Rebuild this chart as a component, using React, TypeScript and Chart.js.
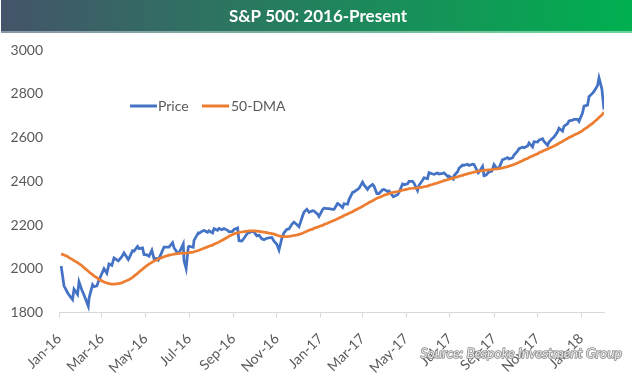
import { useEffect, useRef } from "react";
import { Chart, registerables } from "chart.js";

Chart.register(...registerables);

const chartTitle = "S&P 500: 2016-Present";
const sourceText = "Source: Bespoke Investment Group";
const seriesNames = ["Price", "50-DMA"];

const dates = [
  "2016-01-04","2016-01-08","2016-01-13","2016-01-15","2016-01-20","2016-01-22","2016-01-27","2016-01-29",
  "2016-02-02","2016-02-05","2016-02-11","2016-02-12","2016-02-17","2016-02-19","2016-02-23","2016-02-26",
  "2016-03-01","2016-03-04","2016-03-08","2016-03-11","2016-03-15","2016-03-18","2016-03-24","2016-03-29",
  "2016-04-01","2016-04-07","2016-04-08","2016-04-13","2016-04-15","2016-04-20","2016-04-22","2016-04-27",
  "2016-04-29","2016-05-03","2016-05-06","2016-05-10","2016-05-13","2016-05-17","2016-05-19","2016-05-24",
  "2016-05-27","2016-06-01","2016-06-03","2016-06-08","2016-06-10","2016-06-15","2016-06-17","2016-06-23",
  "2016-06-24","2016-06-27","2016-06-30","2016-07-01","2016-07-07","2016-07-08","2016-07-14","2016-07-15",
  "2016-07-20","2016-07-22","2016-07-27","2016-07-29","2016-08-03","2016-08-05","2016-08-10","2016-08-12",
  "2016-08-16","2016-08-19","2016-08-24","2016-08-26","2016-08-31","2016-09-02","2016-09-07","2016-09-09",
  "2016-09-13","2016-09-16","2016-09-21","2016-09-23","2016-09-28","2016-09-30","2016-10-04","2016-10-07",
  "2016-10-11","2016-10-14","2016-10-18","2016-10-21","2016-10-25","2016-10-28","2016-11-01","2016-11-04",
  "2016-11-08","2016-11-11","2016-11-15","2016-11-18","2016-11-22","2016-11-25","2016-11-30","2016-12-02",
  "2016-12-07","2016-12-09","2016-12-13","2016-12-16","2016-12-21","2016-12-23","2016-12-28","2016-12-30",
  "2017-01-04","2017-01-06","2017-01-11","2017-01-13","2017-01-18","2017-01-20","2017-01-25","2017-01-27",
  "2017-02-01","2017-02-03","2017-02-08","2017-02-10","2017-02-15","2017-02-17","2017-02-22","2017-02-24",
  "2017-03-01","2017-03-03","2017-03-08","2017-03-10","2017-03-15","2017-03-17","2017-03-21","2017-03-24",
  "2017-03-29","2017-03-31","2017-04-05","2017-04-07","2017-04-13","2017-04-19","2017-04-21","2017-04-26",
  "2017-04-28","2017-05-03","2017-05-05","2017-05-10","2017-05-12","2017-05-17","2017-05-19","2017-05-24",
  "2017-05-26","2017-05-31","2017-06-02","2017-06-07","2017-06-09","2017-06-14","2017-06-16","2017-06-21",
  "2017-06-23","2017-06-29","2017-06-30","2017-07-06","2017-07-07","2017-07-12","2017-07-14","2017-07-19",
  "2017-07-21","2017-07-26","2017-07-28","2017-08-02","2017-08-04","2017-08-10","2017-08-11","2017-08-16",
  "2017-08-18","2017-08-21","2017-08-25","2017-08-29","2017-09-01","2017-09-05","2017-09-08","2017-09-13",
  "2017-09-15","2017-09-20","2017-09-22","2017-09-27","2017-09-29","2017-10-04","2017-10-06","2017-10-11",
  "2017-10-13","2017-10-18","2017-10-20","2017-10-25","2017-10-27","2017-11-01","2017-11-03","2017-11-08",
  "2017-11-10","2017-11-15","2017-11-17","2017-11-22","2017-11-24","2017-11-29","2017-12-01","2017-12-06",
  "2017-12-08","2017-12-13","2017-12-15","2017-12-20","2017-12-22","2017-12-27","2017-12-29","2018-01-03",
  "2018-01-05","2018-01-10","2018-01-12","2018-01-17","2018-01-19","2018-01-24","2018-01-26","2018-01-30",
  "2018-02-02",
];

const price = [
  2012.7,1922.0,1890.3,1880.3,1859.3,1906.9,1883.0,1940.2,
  1903.0,1880.1,1829.1,1864.8,1926.8,1917.8,1921.3,1948.1,
  1978.4,2000.0,1979.3,2022.2,2015.9,2049.6,2035.9,2055.0,
  2072.8,2041.9,2047.6,2082.4,2080.7,2102.4,2091.6,2095.2,
  2065.3,2063.4,2057.1,2084.4,2046.6,2047.2,2040.0,2076.1,
  2099.1,2099.3,2099.1,2119.1,2096.1,2071.5,2071.2,2113.3,
  2037.4,2000.5,2098.9,2103.0,2097.9,2129.9,2163.8,2161.7,
  2173.0,2175.0,2166.6,2173.6,2163.8,2182.9,2175.5,2184.1,
  2178.2,2183.9,2175.4,2169.0,2171.0,2180.0,2186.2,2127.8,
  2127.0,2139.2,2163.1,2164.7,2171.4,2168.3,2150.5,2153.7,
  2136.7,2133.0,2139.6,2141.2,2143.2,2126.4,2111.7,2085.2,
  2139.6,2164.5,2180.4,2181.9,2202.9,2213.4,2198.8,2192.0,
  2241.4,2259.5,2271.7,2258.1,2265.2,2263.8,2249.9,2238.8,
  2270.8,2277.0,2275.3,2274.6,2271.9,2271.3,2298.4,2294.7,
  2279.6,2297.4,2294.7,2316.1,2349.3,2351.2,2362.8,2367.3,
  2396.0,2383.1,2363.0,2372.6,2385.3,2378.3,2344.0,2344.0,
  2361.1,2362.7,2353.0,2355.5,2329.0,2338.2,2348.7,2387.5,
  2384.2,2388.1,2399.3,2399.6,2390.9,2357.0,2381.7,2404.4,
  2415.8,2411.8,2439.1,2433.1,2431.8,2437.9,2433.2,2435.6,
  2438.3,2419.7,2423.4,2409.8,2425.2,2443.3,2459.3,2473.8,
  2472.5,2477.6,2472.1,2477.6,2476.8,2438.2,2441.3,2468.1,
  2425.6,2428.4,2443.1,2446.3,2476.6,2457.9,2461.4,2498.4,
  2500.2,2508.2,2502.2,2507.0,2519.4,2537.7,2549.3,2555.2,
  2553.2,2561.3,2575.2,2557.2,2581.1,2579.4,2587.8,2594.4,
  2582.3,2564.6,2578.9,2597.1,2602.4,2626.1,2642.2,2629.3,
  2651.5,2662.9,2675.8,2679.3,2683.3,2682.6,2673.6,2713.1,
  2743.2,2748.2,2786.2,2802.6,2810.3,2837.5,2872.9,2822.4,
  2728.0,
];

const dma50 = [
  2068,2063,2056,2051,2042,2037,2028,2023,
  2015,2005,1989,1985,1973,1967,1959,1951,
  1945,1939,1935,1932,1930,1930,1932,1935,
  1941,1948,1950,1961,1966,1979,1985,1998,
  2004,2014,2021,2029,2035,2041,2045,2051,
  2055,2060,2062,2065,2067,2069,2070,2072,
  2072,2071,2073,2074,2076,2078,2083,2085,
  2091,2094,2100,2103,2108,2112,2119,2123,
  2129,2135,2144,2149,2156,2160,2164,2166,
  2168,2170,2172,2173,2173,2173,2172,2171,
  2169,2167,2165,2163,2161,2158,2154,2150,
  2148,2147,2147,2148,2150,2152,2155,2157,
  2162,2166,2171,2176,2181,2185,2190,2193,
  2198,2202,2208,2212,2218,2221,2228,2232,
  2239,2243,2250,2254,2261,2265,2273,2277,
  2285,2290,2298,2303,2311,2315,2322,2326,
  2332,2336,2341,2344,2349,2353,2355,2359,
  2361,2364,2366,2368,2369,2370,2371,2373,
  2375,2378,2381,2385,2388,2392,2395,2400,
  2403,2408,2410,2414,2416,2420,2423,2427,
  2430,2434,2436,2440,2442,2446,2447,2449,
  2450,2451,2452,2453,2455,2456,2458,2461,
  2463,2467,2469,2474,2477,2483,2487,2494,
  2498,2504,2509,2515,2519,2525,2530,2537,
  2541,2547,2551,2558,2561,2569,2574,2582,
  2587,2595,2600,2607,2612,2618,2622,2631,
  2637,2647,2653,2664,2671,2684,2692,2703,
  2716,
];

const tickDates = [
  "2016-01-01","2016-03-01","2016-05-01","2016-07-01","2016-09-01","2016-11-01","2017-01-01",
  "2017-03-01","2017-05-01","2017-07-01","2017-09-01","2017-11-01","2018-01-01",
];
const tickLabels = [
  "Jan-16","Mar-16","May-16","Jul-16","Sep-16","Nov-16","Jan-17",
  "Mar-17","May-17","Jul-17","Sep-17","Nov-17","Jan-18",
];
const yMin = 1800;
const yMax = 3000;
const yStep = 200;

const seriesColors = ["#4472C4", "#ED7D31"];

function dayOf(s: string): number {
  const [y, m, d] = s.split("-").map(Number);
  return (Date.UTC(y, m - 1, d) - Date.UTC(2016, 0, 1)) / 86400000;
}

const FONT = "Lato, 'Open Sans', sans-serif";

const decorPlugin = {
  id: "decor",
  beforeDraw(chart: any) {
    const ctx = chart.ctx as CanvasRenderingContext2D;
    ctx.save();
    ctx.fillStyle = "#ffffff";
    ctx.fillRect(0, 0, chart.width, chart.height);
    const g = ctx.createLinearGradient(1, 0, 632, 0);
    g.addColorStop(0, "#44546A");
    g.addColorStop(1, "#00B050");
    ctx.fillStyle = g;
    ctx.fillRect(1, 0, 631, 31);
    const g2 = ctx.createLinearGradient(1, 0, 632, 0);
    g2.addColorStop(0, "#8A96A8");
    g2.addColorStop(1, "#6CD49A");
    ctx.fillStyle = g2;
    ctx.fillRect(1, 31, 631, 2);
    ctx.fillStyle = "#ffffff";
    ctx.font = `bold 17px ${FONT}`;
    ctx.textAlign = "center";
    ctx.textBaseline = "middle";
    ctx.fillText(chartTitle, 318, 16.5);
    ctx.restore();
  },
  afterDraw(chart: any) {
    const ctx = chart.ctx as CanvasRenderingContext2D;
    ctx.save();
    const legendY = 106;
    const items = [
      { x0: 130, x1: 157, tx: 158 },
      { x0: 202, x1: 229, tx: 231 },
    ];
    ctx.font = `14px ${FONT}`;
    ctx.textBaseline = "middle";
    ctx.textAlign = "left";
    items.forEach((it, i) => {
      ctx.strokeStyle = seriesColors[i];
      ctx.lineWidth = 3;
      ctx.beginPath();
      ctx.moveTo(it.x0, legendY);
      ctx.lineTo(it.x1, legendY);
      ctx.stroke();
      ctx.fillStyle = "#595959";
      ctx.fillText(chart.data.datasets[i].label, it.tx, legendY + 0.5);
    });
    ctx.font = `italic 14px ${FONT}`;
    ctx.textAlign = "right";
    ctx.textBaseline = "alphabetic";
    ctx.lineJoin = "round";
    ctx.strokeStyle = "#8c8c8c";
    ctx.lineWidth = 1.6;
    ctx.strokeText(sourceText, 622, 358);
    ctx.fillStyle = "#e6e6e6";
    ctx.fillText(sourceText, 622, 358);
    ctx.restore();
  },
};

export default function App() {
  const ref = useRef<HTMLCanvasElement | null>(null);

  useEffect(() => {
    if (!ref.current) return;
    const xs = dates.map(dayOf);
    const tickVals = tickDates.map(dayOf);
    const chart = new Chart(ref.current, {
      type: "line",
      data: {
        datasets: [
          {
            label: seriesNames[0],
            data: xs.map((x, i) => ({ x, y: price[i] })),
            borderColor: seriesColors[0],
            borderWidth: 2.75,
            pointRadius: 0,
            tension: 0,
            order: 1,
          },
          {
            label: seriesNames[1],
            data: xs.map((x, i) => ({ x, y: dma50[i] })),
            borderColor: seriesColors[1],
            borderWidth: 2.75,
            pointRadius: 0,
            tension: 0,
            order: 0,
          },
        ],
      },
      options: {
        responsive: false,
        animation: false,
        devicePixelRatio: 1,
        layout: { padding: { top: 50, right: 32, left: 0, bottom: 0 } },
        plugins: {
          legend: { display: false },
          tooltip: { enabled: false },
          title: { display: false },
        },
        scales: {
          x: {
            type: "linear",
            min: 0,
            max: xs[xs.length - 1],
            afterBuildTicks: (scale: any) => {
              scale.ticks = tickVals.map((v) => ({ value: v }));
            },
            afterFit: (scale: any) => {
              scale.height = 389 - 312.5;
              scale.paddingLeft = 0;
              scale.paddingRight = 0;
            },
            ticks: {
              autoSkip: false,
              minRotation: 45,
              maxRotation: 45,
              padding: 13,
              color: "#595959",
              font: { family: FONT, size: 14 },
              callback: (_v: any, i: number) => tickLabels[i],
            },
            grid: {
              display: true,
              drawOnChartArea: false,
              drawTicks: true,
              tickLength: 5,
              color: "#D9D9D9",
            },
            border: { display: true, color: "#D9D9D9", width: 1 },
          },
          y: {
            type: "linear",
            min: yMin,
            max: yMax,
            afterFit: (scale: any) => {
              scale.width = 59;
            },
            ticks: {
              stepSize: yStep,
              padding: 16,
              color: "#595959",
              font: { family: FONT, size: 14 },
              callback: (v: any) => String(v),
            },
            grid: { display: false, drawTicks: false },
            border: { display: false },
          },
        },
      },
      plugins: [decorPlugin],
    } as any);
    return () => chart.destroy();
  }, []);

  return (
    <div style={{ position: "absolute", left: 0, top: 0, width: 636, height: 389, background: "#fff" }}>
      <canvas ref={ref} width={636} height={389} style={{ display: "block" }} />
    </div>
  );
}
